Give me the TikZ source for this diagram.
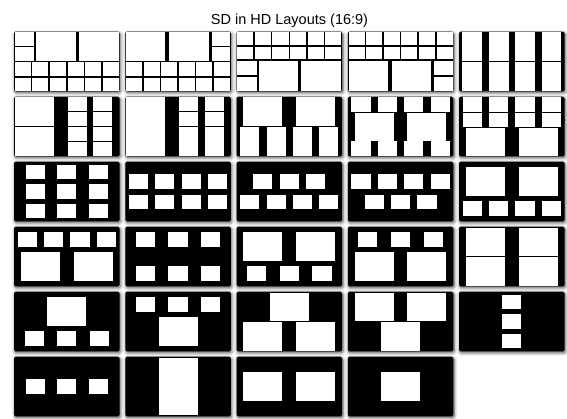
\documentclass[tikz,border=0pt]{standalone}
\usepackage{fontspec}
\setmainfont{Liberation Sans}
\usepackage{tikz}
\usetikzlibrary{shadows.blur}
\tikzset{
  hdbox/.style = {fill=black, rounded corners=1.5pt,
                  blur shadow={shadow xshift=0.9pt, shadow yshift=-1.5pt,
                               shadow blur radius=3.2pt, shadow opacity=70}},
  win/.style   = {fill=white},
  ttl/.style   = {font=\fontsize{14.5}{17}\selectfont, inner sep=0pt, anchor=base},
}
\newcommand{\gp}{0.12}
% tiled cell with a thin black seam
\newcommand{\gcell}[4]{\fill[win] ({#1+\gp},{#2+\gp}) rectangle ({#3-\gp},{#4-\gp});}
% SD window, exact corners
\newcommand{\sdwin}[4]{\fill[win] (#1,#2) rectangle (#3,#4);}
\newcommand{\fourrow}[2]{\foreach \x in {0.55,4.55,8.55,12.55} {\sdwin{\x}{#1}{\x+2.9}{#2}}}
\newcommand{\narrowrow}[2]{\foreach \x in {2.55,6.55,10.55} {\sdwin{\x}{#1}{\x+2.9}{#2}}}
\newcommand{\threerow}[2]{\foreach \x in {1.6,6.55,11.5} {\sdwin{\x}{#1}{\x+2.9}{#2}}}
\newcommand{\bigpair}[2]{\sdwin{1.05}{#1}{6.95}{#2} \sdwin{9.05}{#1}{14.95}{#2}}
\newcommand{\bigone}[2]{\sdwin{5.05}{#1}{10.95}{#2}}
\newcommand{\sixrow}[2]{\foreach \i in {0,...,5} {\gcell{\i*2.6667}{#1}{(\i+1)*2.6667}{#2}}}
% HD screen (16 x 9 units) in column #1, row #2
\newcommand{\hdscreen}[3]{%
  \begin{scope}[shift={(14+111.25*#1,31.7+65*#2)}, x=6.6pt, y=-6.63pt]
    \fill[hdbox] (0,0) rectangle (16,9);
    #3
  \end{scope}}

\begin{document}
\begin{tikzpicture}[x=1pt, y=-1pt]
  \useasboundingbox (0,0) rectangle (567,418);
  \node[ttl] (title) at (289.5,24.5) {SD in HD Layouts (16:9)};

  % row 1
  \hdscreen{0}{0}{
    \gcell{0}{0}{3.1}{2.25} \gcell{0}{2.25}{3.1}{4.5}
    \gcell{3.15}{0}{9.5}{4.5} \gcell{9.7}{0}{16}{4.5}
    \sixrow{4.5}{6.78} \sixrow{6.9}{9}}
  \hdscreen{1}{0}{
    \gcell{0}{0}{6.2}{4.5} \gcell{6.45}{0}{12.8}{4.5}
    \gcell{12.97}{0}{16}{2.25} \gcell{12.97}{2.25}{16}{4.5}
    \sixrow{4.5}{6.78} \sixrow{6.9}{9}}
  \hdscreen{2}{0}{
    \sixrow{0}{2.12} \sixrow{2.12}{4.2}
    \gcell{0}{4.3}{3.2}{6.65} \gcell{0}{6.65}{3.2}{9}
    \gcell{3.33}{4.3}{9.5}{9} \gcell{9.7}{4.3}{16}{9}}
  \hdscreen{3}{0}{
    \sixrow{0}{2.12} \sixrow{2.12}{4.2}
    \gcell{0}{4.3}{6.2}{9} \gcell{6.55}{4.3}{12.7}{9}
    \gcell{12.95}{4.3}{16}{6.65} \gcell{12.95}{6.65}{16}{9}}
  \hdscreen{4}{0}{
    \foreach \x in {0.5,4.5,8.5,12.5} {
      \sdwin{\x}{0.12}{\x+3}{4.44} \sdwin{\x}{4.56}{\x+3}{8.88}}}

  % row 2
  \hdscreen{0}{1}{
    \gcell{0}{0}{6.25}{4.5} \gcell{0}{4.5}{6.25}{9}
    \foreach \j in {0,...,3} {
      \gcell{8}{\j*2.25}{11.2}{(\j+1)*2.25}
      \gcell{11.9}{\j*2.25}{14.95}{(\j+1)*2.25}}}
  \hdscreen{1}{1}{
    \gcell{0}{0}{6.2}{9}
    \foreach \x/\xx in {8.05/11.1, 11.95/15.1} {
      \gcell{\x}{0}{\xx}{2.25} \gcell{\x}{2.25}{\xx}{4.5}
      \gcell{\x}{4.5}{\xx}{9}}}
  \hdscreen{2}{1}{\bigpair{0.12}{4.44} \fourrow{4.6}{8.88}}
  \hdscreen{3}{1}{\fourrow{0.12}{2.25} \bigpair{2.42}{6.75} \fourrow{6.75}{8.88}}
  \hdscreen{4}{1}{\fourrow{0.12}{2.25} \fourrow{2.42}{4.5} \bigpair{4.66}{8.88}}

  % row 3
  \hdscreen{0}{2}{
    \foreach \y in {0.45,3.4,6.35} {
      \foreach \x in {1.8,6.55,11.3} {\sdwin{\x}{\y}{\x+2.9}{\y+2.2}}}}
  \hdscreen{1}{2}{\fourrow{1.85}{4.05} \fourrow{4.95}{7.15}}
  \hdscreen{2}{2}{\narrowrow{1.85}{4.05} \fourrow{4.95}{7.15}}
  \hdscreen{3}{2}{\fourrow{1.85}{4.05} \narrowrow{4.95}{7.15}}
  \hdscreen{4}{2}{\bigpair{0.8}{5.2} \fourrow{6.0}{8.2}}

  % row 4
  \hdscreen{0}{3}{\fourrow{0.8}{3.0} \bigpair{3.8}{8.2}}
  \hdscreen{1}{3}{\threerow{0.85}{3.05} \threerow{5.95}{8.15}}
  \hdscreen{2}{3}{\bigpair{0.8}{5.2} \threerow{6.0}{8.2}}
  \hdscreen{3}{3}{\threerow{0.8}{3.0} \bigpair{3.8}{8.2}}
  \hdscreen{4}{3}{\bigpair{0.12}{4.44} \bigpair{4.56}{8.88}}

  % row 5
  \hdscreen{0}{4}{\bigone{0.8}{5.2} \threerow{6.0}{8.2}}
  \hdscreen{1}{4}{\threerow{0.8}{3.0} \bigone{3.8}{8.2}}
  \hdscreen{2}{4}{\bigone{0.12}{4.4} \bigpair{4.6}{8.88}}
  \hdscreen{3}{4}{\bigpair{0.12}{4.4} \bigone{4.6}{8.88}}
  \hdscreen{4}{4}{
    \foreach \y in {0.45,3.4,6.35} {\sdwin{6.55}{\y}{9.45}{\y+2.2}}}

  % row 6
  \hdscreen{0}{5}{
    \foreach \x in {1.8,6.55,11.3} {\sdwin{\x}{3.4}{\x+2.9}{5.6}}}
  \hdscreen{1}{5}{\bigone{0.15}{8.85}}
  \hdscreen{2}{5}{\bigpair{2.3}{6.7}}
  \hdscreen{3}{5}{\bigone{2.3}{6.7}}
\end{tikzpicture}
\end{document}
